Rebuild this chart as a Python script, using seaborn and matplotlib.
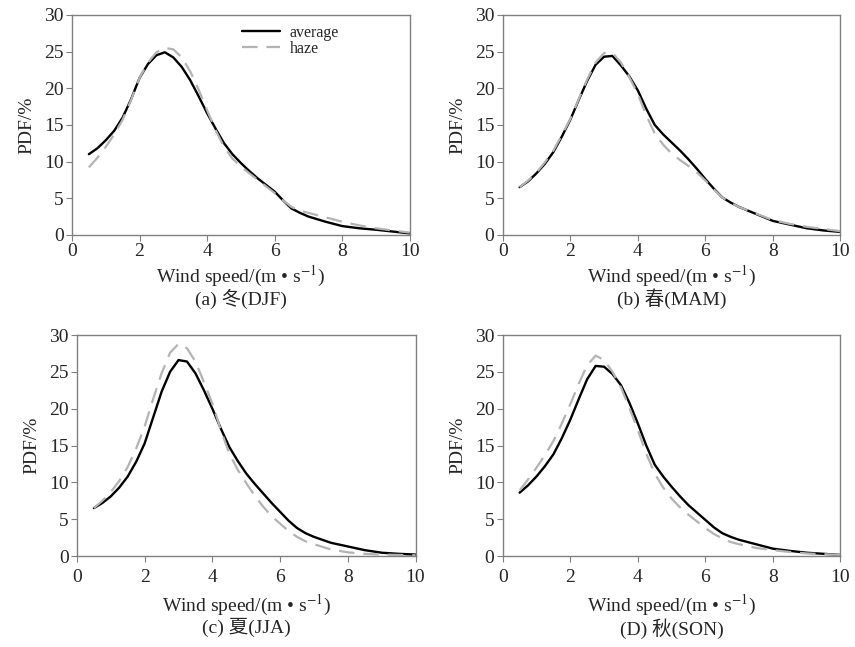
import numpy as np
import pandas as pd
import matplotlib
matplotlib.use("Agg")
import matplotlib.pyplot as plt
import seaborn as sns

speed = [0.5, 0.75, 1, 1.25, 1.5, 1.75, 2, 2.25, 2.5, 2.75, 3, 3.25, 3.5, 3.75, 4, 4.25,
         4.5, 4.75, 5, 5.25, 5.5, 5.75, 6, 6.25, 6.5, 6.75, 7, 7.5, 8, 8.5, 9, 9.5, 10]

# PDF (%) per season
djf_avg  = [11.0, 11.8, 12.9, 14.2, 16.0, 18.5, 21.4, 23.3, 24.5, 24.9, 24.2, 22.9, 21.1, 18.9, 16.6, 14.5,
            12.5, 11.0, 9.8, 8.7, 7.7, 6.8, 5.9, 4.7, 3.6, 3.0, 2.5, 1.8, 1.2, 0.9, 0.7, 0.45, 0.2]
djf_haze = [9.2, 10.5, 12.0, 13.7, 15.7, 18.4, 21.4, 23.5, 24.9, 25.5, 25.3, 24.2, 22.3, 19.8, 17.0, 14.3,
            12.0, 10.4, 9.3, 8.4, 7.5, 6.6, 5.7, 4.7, 3.8, 3.3, 3.0, 2.4, 1.8, 1.3, 0.9, 0.6, 0.3]
mam_avg  = [6.5, 7.3, 8.4, 9.7, 11.3, 13.4, 15.7, 18.4, 21.0, 23.2, 24.3, 24.4, 23.1, 21.6, 19.7, 17.2,
            15.0, 13.7, 12.6, 11.5, 10.3, 9.0, 7.6, 6.3, 5.1, 4.4, 3.8, 2.85, 1.9, 1.4, 0.9, 0.6, 0.4]
mam_haze = [6.5, 7.4, 8.5, 9.9, 11.5, 13.6, 15.8, 18.5, 21.2, 23.5, 24.8, 24.8, 23.5, 21.5, 19.2, 16.3,
            13.8, 12.3, 11.1, 10.2, 9.4, 8.5, 7.4, 6.2, 5.1, 4.4, 3.8, 2.9, 2.0, 1.5, 1.1, 0.8, 0.5]
jja_avg  = [6.5, 7.2, 8.1, 9.3, 10.8, 12.8, 15.3, 18.8, 22.3, 25.0, 26.6, 26.4, 24.8, 22.5, 20.0, 17.3,
            14.8, 12.9, 11.2, 9.8, 8.5, 7.2, 6.0, 4.8, 3.8, 3.1, 2.6, 1.8, 1.3, 0.8, 0.45, 0.3, 0.2]
jja_haze = [6.5, 7.5, 8.7, 10.2, 12.1, 14.6, 17.6, 21.3, 24.8, 27.6, 28.8, 28.2, 26.4, 23.6, 20.7, 17.1,
            13.9, 11.7, 9.9, 8.2, 6.7, 5.4, 4.4, 3.4, 2.6, 2.0, 1.6, 0.9, 0.5, 0.3, 0.2, 0.15, 0.1]
son_avg  = [8.6, 9.6, 10.8, 12.2, 13.8, 16.0, 18.5, 21.3, 24.0, 25.8, 25.7, 24.7, 23.2, 20.8, 18.0, 15.0,
            12.4, 10.8, 9.4, 8.1, 6.9, 5.9, 4.9, 3.9, 3.1, 2.6, 2.2, 1.6, 1.0, 0.7, 0.45, 0.3, 0.15]
son_haze = [8.9, 10.4, 12.0, 13.7, 15.6, 18.0, 20.6, 23.4, 25.9, 27.2, 26.6, 25.0, 22.9, 20.1, 17.1, 13.9,
            11.2, 9.3, 7.8, 6.6, 5.6, 4.7, 3.8, 3.0, 2.4, 1.9, 1.6, 1.1, 0.8, 0.55, 0.35, 0.25, 0.15]

captions = ["(a) 冬(DJF)", "(b) 春(MAM)", "(c) 夏(JJA)", "(D) 秋(SON)"]
series = [(djf_avg, djf_haze), (mam_avg, mam_haze), (jja_avg, jja_haze), (son_avg, son_haze)]

sns.set_style("white")
plt.rcParams['font.family'] = ['Liberation Serif', 'Noto Sans CJK SC']
plt.rcParams['mathtext.fontset'] = 'stix'

fig = plt.figure(figsize=(8.55, 6.47), dpi=100)
positions = [
    [0.0842, 0.637, 0.395, 0.340],
    [0.588, 0.637, 0.395, 0.340],
    [0.090, 0.1406, 0.396, 0.3416],
    [0.588, 0.1406, 0.395, 0.3416],
]
fs = 14

for i, (pos, (avg, haze), cap) in enumerate(zip(positions, series, captions)):
    ax = fig.add_axes(pos)
    df = pd.DataFrame({"speed": speed * 2,
                       "pdf": avg + haze,
                       "type": ["average"] * len(speed) + ["haze"] * len(speed)})
    sns.lineplot(data=df[df["type"] == "average"], x="speed", y="pdf", ax=ax,
                 color="black", linewidth=1.7, label="average")
    sns.lineplot(data=df[df["type"] == "haze"], x="speed", y="pdf", ax=ax,
                 color="#b3b3b3", linewidth=1.6, label="haze")
    ax.lines[-1].set_dashes([7, 4])
    for ln in ax.lines:
        ln.set_solid_joinstyle("round")
        ln.set_dash_joinstyle("round")

    ax.set_xlim(0, 10)
    ax.set_ylim(0, 30)
    ax.set_xticks(range(0, 11, 2))
    ax.set_yticks(range(0, 31, 5))
    for s in ax.spines.values():
        s.set_color("#808080")
        s.set_linewidth(1.0)
    bottom_row = i >= 2
    ax.tick_params(axis="both", direction="out", length=4, width=0.8, color="#808080",
                   labelsize=fs, pad=2, bottom=True, left=True)
    ax.tick_params(axis="x", pad=5 if bottom_row else 2)
    ax.set_xlabel("Wind speed/(m • s$^{-1}$)", fontsize=fs, labelpad=5 if bottom_row else 3)
    ax.set_ylabel("PDF/%", fontsize=fs, labelpad=6)
    ax.text(0.5, -0.28 if bottom_row else -0.245, cap, transform=ax.transAxes,
            ha="center", va="top", fontsize=fs)

    if i == 0:
        ax.legend(loc="upper left", bbox_to_anchor=(0.46, 1.02), frameon=False,
                  fontsize=11.5, handlelength=2.4, labelspacing=0.0, handletextpad=0.6)
    else:
        ax.get_legend().remove()

fig.savefig("out.png", dpi=100)
